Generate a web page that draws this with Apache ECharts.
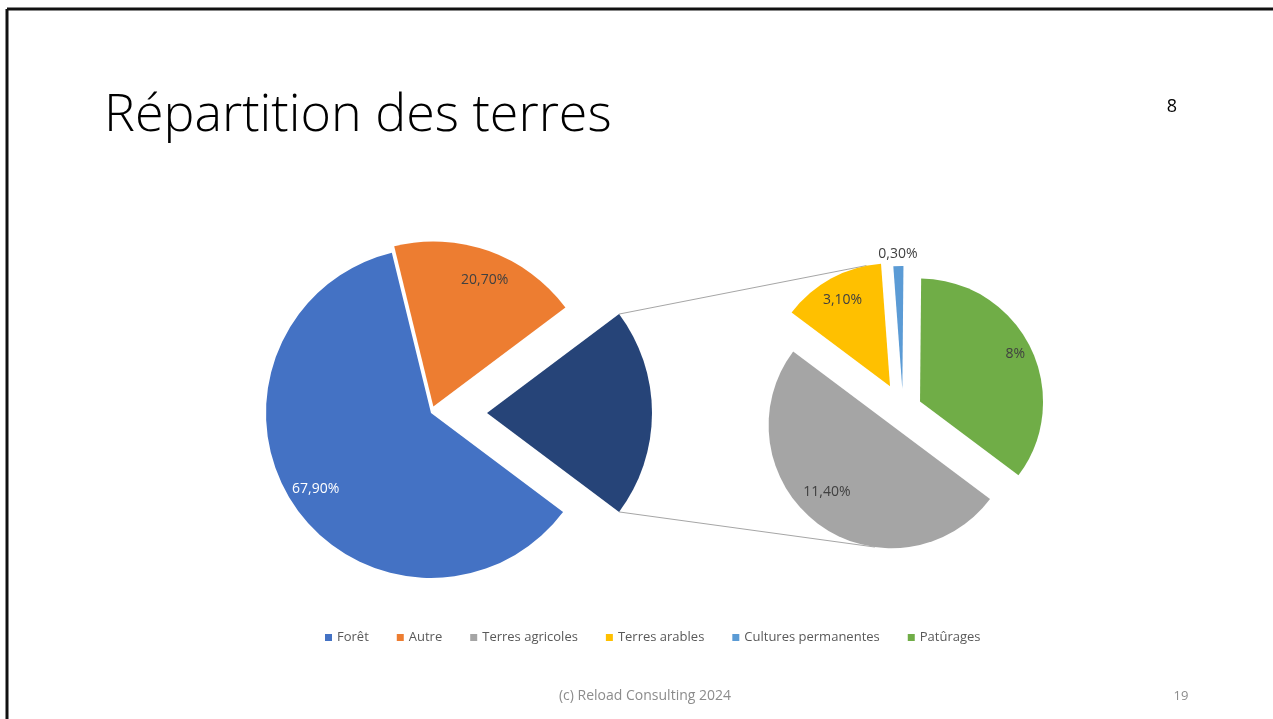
<!DOCTYPE html>
<html><head><meta charset="utf-8">
<script src="https://cdn.jsdelivr.net/npm/echarts@6/dist/echarts.min.js"></script>
<style>html,body{margin:0;padding:0;background:#fff}#c{width:1273px;height:719px}</style>
</head><body><div id="c"></div>
<script>
// ---- data ----
const mainNames = ['Forêt', 'Autre'];
const mainValues = [67.9, 20.7];
const otherName = 'Terres agricoles (détail)';
const subNames = ['Terres agricoles', 'Terres arables', 'Cultures permanentes', 'Patûrages'];
const subValues = [11.4, 3.1, 0.3, 8];
const legendNames = ['Forêt', 'Autre', 'Terres agricoles', 'Terres arables', 'Cultures permanentes', 'Patûrages'];
const titleText = 'Répartition des terres';
const sectionNumber = '8';
const footerText = '(c) Reload Consulting 2024';
const pageNumber = '19';

// ---- styles ----
const mainColors = ['#4472C4', '#ED7D31', '#264478'];
const subColors = ['#A5A5A5', '#FFC000', '#5B9BD5', '#70AD47'];
const legendColors = ['#4472C4', '#ED7D31', '#A5A5A5', '#FFC000', '#5B9BD5', '#70AD47'];
const FONT = '"Open Sans", "Noto Sans", sans-serif';

const otherValue = subValues.reduce((a, b) => a + b, 0);
const leftNames = mainNames.concat([otherName]);
const leftValues = mainValues.concat([otherValue]);
const leftTotal = leftValues.reduce((a, b) => a + b, 0);
const subTotal = otherValue;

// geometry (horizontal label shift done through asymmetric padding)
const L = { cx: 431, cy: 413, r: 165, offsets: [0, 7, 56],
  labelR: [[0.64, 1.0], [0.59, 1.0], [0.6, 1.0]], labelShift: [0, 6, 0],
  labelColors: ['#ffffff', '#404040', '#404040'], showLabel: [true, true, false] };
const R = { cx: 903, cy: 410, r: 123, offsets: [19, 27, 21, 19],
  labelR: [[0.3, 1.0], [0.56, 1.0], [1.0, 1.15], [0.68, 1.0]], labelShift: [-15, 0, 0, 0],
  labelColors: ['#404040', '#404040', '#404040', '#404040'], showLabel: [true, true, true, true] };

const startAngle = 360 - 180 * otherValue / leftTotal;

function fmt(v) {
  return (Number.isInteger(v) ? String(v) : v.toFixed(2).replace('.', ',')) + '%';
}
function shiftPadding(dx) {
  return [0, Math.max(0, -2 * dx), 0, Math.max(0, 2 * dx)];
}

function buildPie(names, values, colors, G) {
  const out = [];
  names.forEach((nm, i) => {
    const base = {
      type: 'pie', center: [G.cx, G.cy], startAngle: startAngle, clockwise: true,
      selectedMode: 'multiple', selectedOffset: G.offsets[i], silent: true, animation: false,
      avoidLabelOverlap: false, emphasis: { disabled: true }, labelLine: { show: false },
      minAngle: 0
    };
    out.push(Object.assign({}, base, {
      radius: [0, G.r], z: 3,
      label: { show: false },
      data: names.map((n, j) => ({
        name: n, value: values[j], selected: j === i,
        itemStyle: { color: j === i ? colors[j] : 'rgba(0,0,0,0)', borderWidth: 0 }
      }))
    }));
    if (G.showLabel[i]) {
      out.push(Object.assign({}, base, {
        radius: [G.labelR[i][0] * G.r, G.labelR[i][1] * G.r], z: 4,
        data: names.map((n, j) => ({
          name: n, value: values[j], selected: j === i,
          itemStyle: { color: 'rgba(0,0,0,0)', borderWidth: 0 },
          label: {
            show: j === i, position: 'inside', formatter: fmt(values[j]),
            padding: shiftPadding(G.labelShift[j]),
            color: G.labelColors[j], fontFamily: FONT, fontSize: 14
          }
        }))
      }));
    }
  });
  return out;
}

const series = buildPie(leftNames, leftValues, mainColors, L).concat(buildPie(subNames, subValues, subColors, R));

// ---- connector lines, from the pie geometry ----
const D2R = Math.PI / 180;
const a0 = -startAngle * D2R;
const halfOther = Math.PI * otherValue / leftTotal;
const navyC = [L.cx + L.offsets[2], L.cy];
const pTop = [navyC[0] + L.r * Math.cos(-halfOther), navyC[1] + L.r * Math.sin(-halfOther)];
const pBot = [navyC[0] + L.r * Math.cos(halfOther), navyC[1] + L.r * Math.sin(halfOther)];
const subSpans = [];
let acc = a0;
subValues.forEach((v, j) => {
  const d = 2 * Math.PI * v / subTotal;
  const mid = acc + d / 2;
  subSpans.push({ s: acc, e: acc + d, c: [R.cx + R.offsets[j] * Math.cos(mid), R.cy + R.offsets[j] * Math.sin(mid)] });
  acc += d;
});
function norm(a) { a = a % (2 * Math.PI); return a < 0 ? a + 2 * Math.PI : a; }
function inSpan(a, s, e) { const x = norm(a - s); return x <= norm(e - s) + 1e-9 || (e - s) >= 2 * Math.PI; }
function tangent(P, pickTop) {
  let best = null;
  subSpans.forEach(sp => {
    const dx = P[0] - sp.c[0], dy = P[1] - sp.c[1];
    const d = Math.hypot(dx, dy);
    const psi = Math.atan2(dy, dx);
    const beta = Math.acos(R.r / d);
    [psi + beta, psi - beta].forEach(t => {
      if (!inSpan(t, sp.s, sp.e)) return;
      const T = [sp.c[0] + R.r * Math.cos(t), sp.c[1] + R.r * Math.sin(t)];
      if (!best || (pickTop ? T[1] < best[1] : T[1] > best[1])) best = T;
    });
  });
  return best;
}
const tTop = tangent(pTop, true);
const tBot = tangent(pBot, false);

const lineStyle = { stroke: '#A6A6A6', lineWidth: 1 };
const graphic = [
  { type: 'line', z: 1, shape: { x1: 7, y1: 9, x2: 1273, y2: 9 }, style: { stroke: '#111', lineWidth: 3 } },
  { type: 'line', z: 1, shape: { x1: 7, y1: 9, x2: 7, y2: 719 }, style: { stroke: '#111', lineWidth: 3 } },
  { type: 'text', x: 104, y: 116, style: { text: titleText, font: '300 52px ' + FONT, fill: '#000', verticalAlign: 'middle', textAlign: 'left' } },
  { type: 'text', x: 1172, y: 107, style: { text: sectionNumber, font: '18px ' + FONT, fill: '#000', verticalAlign: 'middle', textAlign: 'center' } },
  { type: 'text', x: 645, y: 696, style: { text: footerText, font: '14px ' + FONT, fill: '#8C8C8C', verticalAlign: 'middle', textAlign: 'center' } },
  { type: 'text', x: 1181, y: 696, style: { text: pageNumber, font: '13px ' + FONT, fill: '#8C8C8C', verticalAlign: 'middle', textAlign: 'center' } }
];
if (tTop) graphic.push({ type: 'line', z: 1, shape: { x1: pTop[0], y1: pTop[1], x2: tTop[0], y2: tTop[1] }, style: lineStyle });
if (tBot) graphic.push({ type: 'line', z: 1, shape: { x1: pBot[0], y1: pBot[1], x2: tBot[0], y2: tBot[1] }, style: lineStyle });

const chart = echarts.init(document.getElementById('c'), null, { renderer: 'canvas' });
chart.setOption({
  backgroundColor: '#ffffff',
  animation: false,
  legend: {
    bottom: 70, left: 320, itemWidth: 7, itemHeight: 7, itemGap: 28, icon: 'rect',
    selectedMode: false,
    textStyle: { color: '#595959', fontSize: 13, fontFamily: FONT },
    data: legendNames.map((n, i) => ({ name: n, itemStyle: { color: legendColors[i] } }))
  },
  graphic: graphic,
  series: series
});
</script></body></html>
